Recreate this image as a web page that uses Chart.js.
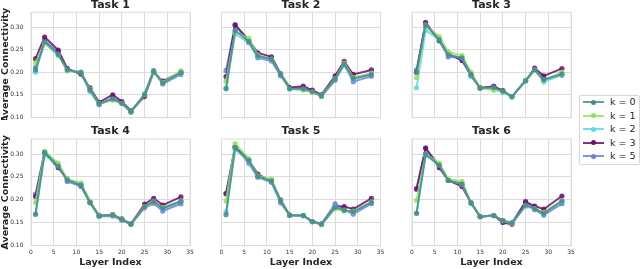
<!DOCTYPE html>
<html>
<head>
<meta charset="utf-8">
<script src="https://cdn.jsdelivr.net/npm/chart.js@4"></script>
<style>
  html, body { margin: 0; padding: 0; background: #fff; }
  body { width: 640px; height: 269px; position: relative; overflow: hidden; font-family: "DejaVu Sans", sans-serif; }
  canvas { position: absolute; }
  #legend { position: absolute; left: 579px; top: 95px; width: 59px; height: 68px; border: 1px solid #d6d6d6; border-radius: 2px; background: #fff; }
  .row { position: absolute; left: 0; height: 12px; width: 59px; }
  .sw { position: absolute; left: 3px; top: 5px; width: 21px; height: 2px; }
  .dot { position: absolute; left: 11px; top: 3.5px; width: 5px; height: 5px; border-radius: 50%; }
  .lab { position: absolute; left: 30px; top: -1px; font-size: 9.5px; color: #262626; white-space: nowrap; line-height: 14px; }
</style>
</head>
<body>
<canvas id="c1"></canvas>
<canvas id="c2"></canvas>
<canvas id="c3"></canvas>
<canvas id="c4"></canvas>
<canvas id="c5"></canvas>
<canvas id="c6"></canvas>
<div id="legend"></div>
<script>
const layers = [1, 3, 6, 8, 11, 13, 15, 18, 20, 22, 25, 27, 29, 33];
const kLabels = ["k = 0", "k = 1", "k = 2", "k = 3", "k = 5"];
const kColors = ["#4a8a8e", "#8fe35c", "#5ed8e2", "#6d0f6e", "#6b7fe4"];
const yTicks = [0.10, 0.15, 0.20, 0.25, 0.30];
const xTicks = [0, 5, 10, 15, 20, 25, 30, 35];
const taskNames = ["Task 1", "Task 2", "Task 3", "Task 4", "Task 5", "Task 6"];

// values per task, one array per k (k = 0, 1, 2, 3, 5)
const task1 = [
  [0.205, 0.268, 0.240, 0.205, 0.199, 0.161, 0.130, 0.141, 0.131, 0.112, 0.150, 0.202, 0.176, 0.199],
  [0.220, 0.265, 0.238, 0.203, 0.200, 0.162, 0.130, 0.138, 0.130, 0.112, 0.150, 0.200, 0.177, 0.203],
  [0.200, 0.265, 0.237, 0.204, 0.201, 0.160, 0.130, 0.140, 0.131, 0.111, 0.150, 0.203, 0.176, 0.198],
  [0.230, 0.278, 0.249, 0.208, 0.196, 0.165, 0.133, 0.150, 0.135, 0.114, 0.146, 0.200, 0.180, 0.200],
  [0.210, 0.270, 0.245, 0.206, 0.197, 0.158, 0.128, 0.143, 0.132, 0.112, 0.152, 0.204, 0.174, 0.195]
];
const task2 = [
  [0.163, 0.293, 0.268, 0.236, 0.229, 0.195, 0.164, 0.163, 0.157, 0.148, 0.185, 0.218, 0.186, 0.195],
  [0.180, 0.290, 0.275, 0.238, 0.229, 0.196, 0.163, 0.160, 0.155, 0.148, 0.185, 0.220, 0.188, 0.198],
  [0.165, 0.285, 0.265, 0.235, 0.228, 0.195, 0.162, 0.162, 0.156, 0.147, 0.185, 0.215, 0.185, 0.195],
  [0.190, 0.305, 0.272, 0.243, 0.234, 0.197, 0.166, 0.169, 0.160, 0.150, 0.192, 0.224, 0.195, 0.205],
  [0.204, 0.305, 0.266, 0.232, 0.225, 0.192, 0.165, 0.165, 0.157, 0.146, 0.182, 0.217, 0.179, 0.191]
];
const task3 = [
  [0.200, 0.305, 0.272, 0.238, 0.232, 0.195, 0.165, 0.166, 0.158, 0.146, 0.181, 0.206, 0.183, 0.196],
  [0.188, 0.305, 0.279, 0.245, 0.237, 0.200, 0.165, 0.160, 0.157, 0.146, 0.182, 0.205, 0.183, 0.200],
  [0.165, 0.293, 0.272, 0.238, 0.232, 0.193, 0.165, 0.164, 0.155, 0.146, 0.182, 0.204, 0.178, 0.195],
  [0.200, 0.310, 0.270, 0.241, 0.226, 0.193, 0.165, 0.168, 0.159, 0.146, 0.181, 0.209, 0.192, 0.208],
  [0.205, 0.310, 0.270, 0.234, 0.232, 0.191, 0.165, 0.169, 0.158, 0.145, 0.182, 0.205, 0.185, 0.193]
];
const task4 = [
  [0.168, 0.303, 0.273, 0.242, 0.232, 0.194, 0.164, 0.166, 0.156, 0.146, 0.185, 0.196, 0.181, 0.196],
  [0.194, 0.306, 0.280, 0.245, 0.237, 0.197, 0.164, 0.166, 0.156, 0.146, 0.185, 0.195, 0.183, 0.197],
  [0.168, 0.298, 0.275, 0.242, 0.233, 0.194, 0.164, 0.166, 0.156, 0.146, 0.185, 0.197, 0.180, 0.197],
  [0.207, 0.303, 0.270, 0.245, 0.232, 0.194, 0.165, 0.167, 0.158, 0.147, 0.190, 0.203, 0.188, 0.206],
  [0.212, 0.305, 0.275, 0.240, 0.229, 0.193, 0.163, 0.164, 0.155, 0.146, 0.182, 0.192, 0.175, 0.191]
];
const task5 = [
  [0.167, 0.314, 0.286, 0.251, 0.241, 0.198, 0.166, 0.165, 0.152, 0.146, 0.183, 0.177, 0.173, 0.194],
  [0.197, 0.323, 0.290, 0.252, 0.245, 0.200, 0.166, 0.165, 0.152, 0.145, 0.180, 0.175, 0.175, 0.195],
  [0.173, 0.310, 0.285, 0.250, 0.240, 0.198, 0.166, 0.165, 0.152, 0.146, 0.185, 0.177, 0.172, 0.194],
  [0.213, 0.316, 0.287, 0.256, 0.240, 0.200, 0.166, 0.165, 0.152, 0.147, 0.185, 0.185, 0.179, 0.203],
  [0.213, 0.316, 0.280, 0.249, 0.238, 0.193, 0.166, 0.165, 0.152, 0.146, 0.191, 0.178, 0.168, 0.191]
];
const task6 = [
  [0.170, 0.300, 0.275, 0.242, 0.234, 0.193, 0.163, 0.165, 0.154, 0.148, 0.188, 0.180, 0.170, 0.197],
  [0.198, 0.300, 0.280, 0.245, 0.240, 0.193, 0.163, 0.165, 0.154, 0.148, 0.187, 0.180, 0.172, 0.198],
  [0.170, 0.297, 0.276, 0.242, 0.234, 0.193, 0.163, 0.165, 0.154, 0.148, 0.185, 0.180, 0.170, 0.197],
  [0.223, 0.313, 0.270, 0.242, 0.229, 0.193, 0.163, 0.165, 0.150, 0.146, 0.195, 0.186, 0.179, 0.208],
  [0.225, 0.313, 0.276, 0.242, 0.234, 0.192, 0.162, 0.165, 0.154, 0.150, 0.196, 0.178, 0.166, 0.191]
];
const tasks = [task1, task2, task3, task4, task5, task6];

const GRID = "#dcdcdc";
const FONT = "'DejaVu Sans', sans-serif";

function hexA(hex, a) {
  const n = parseInt(hex.slice(1), 16);
  return `rgba(${n >> 16}, ${(n >> 8) & 255}, ${n & 255}, ${a})`;
}

// keep tick-label overhang from shrinking the plot area
function noPad(s) {
  s.paddingLeft = s.paddingRight = s.paddingTop = s.paddingBottom = 0;
}

const frame = {
  id: "frame",
  afterDraw(chart) {
    const a = chart.chartArea, c = chart.ctx;
    c.save();
    c.strokeStyle = GRID;
    c.lineWidth = 1;
    c.strokeRect(a.left, a.top, a.right - a.left, a.bottom - a.top);
    c.restore();
  }
};

// plot rectangles (page px)
const colLeft = [31, 221.5, 412];
const plotW = 159;
const rowTop = [12.3, 139];
const rowBottom = [117.7, 245.7];

tasks.forEach(function (data, i) {
  const col = i % 3, row = Math.floor(i / 3);
  const first = col === 0, bottom = row === 1;
  const cv = document.getElementById("c" + (i + 1));

  const cLeft = first ? 0 : Math.floor(colLeft[col] - 10);
  const yW = colLeft[col] - cLeft;
  const cW = Math.ceil(yW + plotW + 6);
  const cTop = bottom ? 124 : -2;
  const cBot = bottom ? 269 : 120;
  const xH = cBot - rowBottom[row];
  const padTop = bottom ? 1 : 0.5;
  const padBot = rowTop[row] - cTop - 13.2 - padTop;

  cv.width = cW; cv.height = cBot - cTop;
  cv.style.left = cLeft + "px"; cv.style.top = cTop + "px";
  cv.style.width = cW + "px"; cv.style.height = (cBot - cTop) + "px";

  new Chart(cv.getContext("2d"), {
    type: "line",
    data: {
      datasets: data.map(function (vals, k) {
        return {
          label: kLabels[k],
          data: layers.map((x, j) => ({ x: x, y: vals[j] })),
          borderColor: hexA(kColors[k], 0.85),
          backgroundColor: hexA(kColors[k], 0.85),
          borderWidth: 2,
          pointRadius: 2.6,
          pointBorderWidth: 0,
          tension: 0
        };
      })
    },
    options: {
      responsive: false,
      animation: false,
      devicePixelRatio: 1,
      layout: { padding: { left: 0, top: 0, bottom: 0, right: cW - yW - plotW }, autoPadding: false },
      plugins: {
        legend: { display: false },
        tooltip: { enabled: false },
        title: {
          display: true,
          fullSize: false,
          text: taskNames[i],
          color: "#262626",
          font: { family: FONT, size: 11, weight: "bold" },
          padding: { top: padTop, bottom: padBot }
        }
      },
      scales: {
        x: {
          type: "linear",
          min: 0, max: 35,
          afterFit: s => { s.height = xH; noPad(s); },
          afterBuildTicks: s => { s.ticks = xTicks.map(v => ({ value: v })); },
          grid: { color: GRID, lineWidth: 1, drawTicks: false },
          border: { display: false },
          ticks: { display: bottom, color: "#333", padding: 3.4, font: { family: FONT, size: 6 }, maxRotation: 0 },
          title: {
            display: bottom, text: "Layer Index", color: "#262626",
            font: { family: FONT, size: 9.5, weight: "bold" }, padding: { top: 0, bottom: 1 }
          }
        },
        y: {
          type: "linear",
          min: 0.099, max: 0.333,
          afterFit: s => { s.width = yW; noPad(s); },
          afterBuildTicks: s => { s.ticks = yTicks.map(v => ({ value: v })); },
          grid: { color: GRID, lineWidth: 1, drawTicks: false },
          border: { display: false },
          ticks: { display: first, color: "#333", padding: 7.5, font: { family: FONT, size: 6 }, callback: v => v.toFixed(2) },
          title: {
            display: first, text: "Average Connectivity", color: "#262626",
            font: { family: FONT, size: 9.5, weight: "bold" }, padding: { top: 0, bottom: 0 }
          }
        }
      }
    },
    plugins: [frame]
  });
});

// legend
const leg = document.getElementById("legend");
kLabels.forEach(function (lab, k) {
  const r = document.createElement("div");
  r.className = "row";
  r.style.top = (k * 13.5) + "px";
  r.innerHTML = `<div class="sw" style="background:${hexA(kColors[k], 0.85)}"></div>` +
    `<div class="dot" style="background:${kColors[k]}"></div>` +
    `<div class="lab">${lab}</div>`;
  leg.appendChild(r);
});
</script>
</body>
</html>
